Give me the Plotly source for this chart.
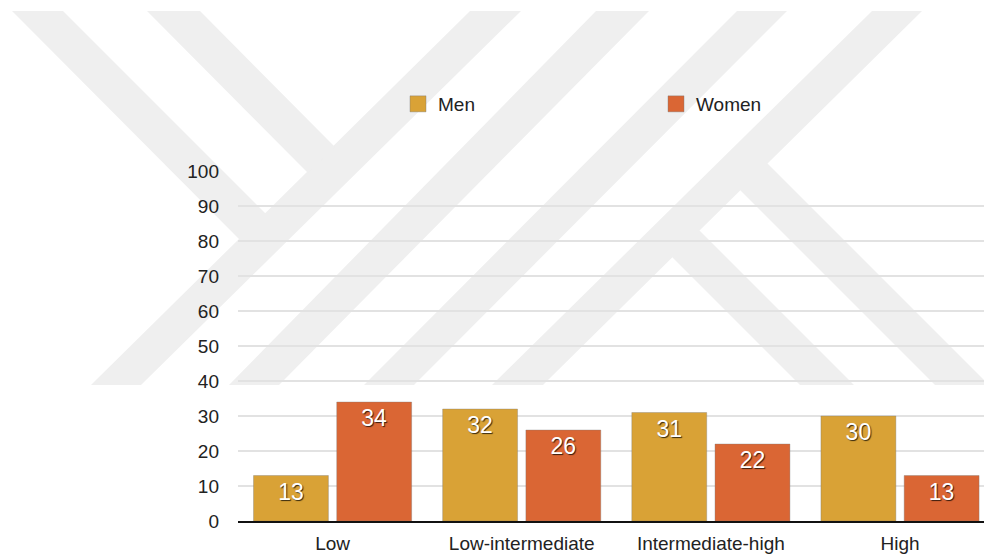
import plotly.graph_objects as go

categories = ["Low", "Low-intermediate", "Intermediate-high", "High"]
men = [13, 32, 31, 30]
women = [34, 26, 22, 13]
y_ticks = [0, 10, 20, 30, 40, 50, 60, 70, 80, 90, 100]

MEN_COLOR = "#D9A236"
WOMEN_COLOR = "#DA6634"
FONT = "Liberation Sans, Arial, Helvetica, sans-serif"

W, H = 984, 555
ML, MR, MT, MB = 238, 0, 171, 34
PW, PH = W - ML - MR, H - MT - MB


def px(x):
    return (x - ML) / PW


def py(y):
    return (H - MB - y) / PH


def poly(pts):
    d = "M " + " L ".join(f"{px(a):.4f},{py(b):.4f}" for a, b in pts) + " Z"
    return dict(type="path", path=d, xref="paper", yref="paper",
                fillcolor="#efefef", line=dict(width=0), layer="below")


# background watermark (decorative bands)
wm = [
    [(91, 385), (141, 385), (521, 11), (470, 11)],
    [(229, 385), (279, 385), (649, 11), (596, 11)],
    [(364, 385), (414, 385), (787, 11), (737, 11)],
    [(492, 385), (543, 385), (922, 11), (872, 11)],
    [(12, 11), (63, 11), (266, 214), (240, 240)],
    [(147, 11), (200, 11), (335, 147), (308, 173)],
    [(767, 163), (989, 385), (935, 385), (740, 190)],
    [(699, 230), (854, 385), (800, 385), (672, 257)],
]

label_font = dict(family=FONT, size=23, color="white",
                  shadow="1px 1px 1px rgba(0,0,0,0.75)")

fig = go.Figure()
fig.add_trace(go.Bar(
    name="Men", x=categories, y=men, marker_color=MEN_COLOR,
    marker_line=dict(color="rgba(120,120,120,0.35)", width=1),
    text=men, textposition="inside", insidetextanchor="end",
    textfont=label_font, textangle=0, showlegend=False,
))
fig.add_trace(go.Bar(
    name="Women", x=categories, y=women, marker_color=WOMEN_COLOR,
    marker_line=dict(color="rgba(120,120,120,0.35)", width=1),
    text=women, textposition="inside", insidetextanchor="end",
    textfont=label_font, textangle=0, showlegend=False,
))
# legend entries with larger square swatches
for name, col in [("Men", MEN_COLOR), ("Women", WOMEN_COLOR)]:
    fig.add_trace(go.Scatter(
        name=name, x=[None], y=[None], mode="markers",
        marker=dict(symbol="square", size=16, color=col,
                    line=dict(color="rgba(120,120,120,0.4)", width=1)),
        showlegend=True,
    ))

fig.update_layout(
    width=W, height=H,
    margin=dict(l=ML, r=MR, t=MT, b=MB, pad=0),
    paper_bgcolor="white", plot_bgcolor="rgba(0,0,0,0)",
    barmode="group", bargap=0.12, bargroupgap=0.1,
    font=dict(family=FONT, size=19, color="#222222"),
    shapes=[poly(p) for p in wm],
    legend=dict(
        orientation="h", x=px(398), xanchor="left", y=py(104), yanchor="middle",
        entrywidth=213, entrywidthmode="pixels",
        font=dict(family=FONT, size=19, color="#222222"),
        bgcolor="rgba(0,0,0,0)", traceorder="normal",
    ),
    showlegend=True,
)
fig.update_xaxes(
    range=[-0.5, 3.444], showgrid=False, showline=True, linecolor="#111111",
    linewidth=2, ticks="", ticklabelstandoff=4,
    tickfont=dict(family=FONT, size=19, color="#222222"),
)
fig.update_yaxes(
    range=[0, 100], tickvals=y_ticks, showgrid=True, gridcolor="#e2e2e2",
    gridwidth=2, zeroline=False, showline=False, ticks="", ticklabelstandoff=18,
    tickfont=dict(family=FONT, size=19, color="#222222"),
)

fig.write_html("out.html")
